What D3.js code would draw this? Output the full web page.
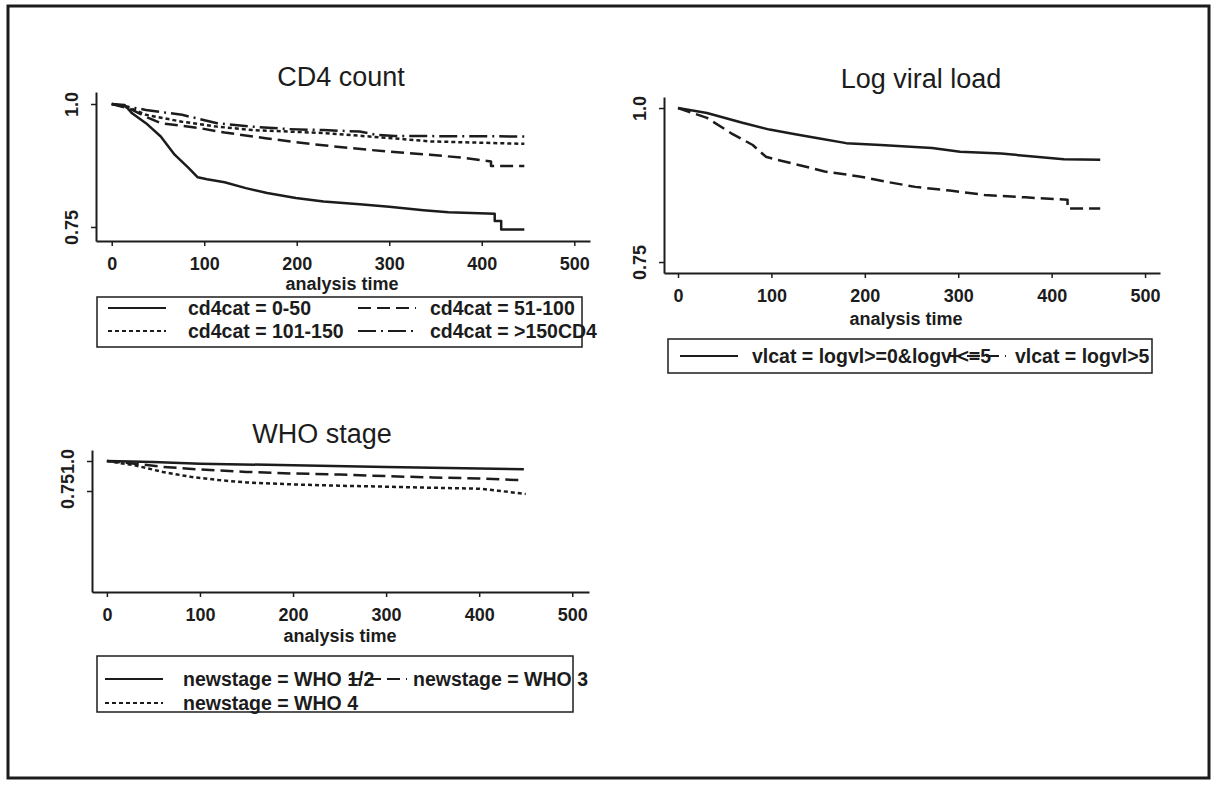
<!DOCTYPE html>
<html>
<head>
<meta charset="utf-8">
<script src="https://cdn.jsdelivr.net/npm/d3@7"></script>
<style>
  html, body { margin: 0; padding: 0; background: #fff; }
  svg { display: block; }
  text { font-family: "Liberation Sans", Arial, sans-serif; fill: #1c1c1c; }
</style>
</head>
<body>
<svg id="chart" width="1222" height="788"></svg>
<script>
// ---- Kaplan-Meier survival estimates (analysis time in days) ----
const tickTimes = [0, 100, 200, 300, 400, 500];
const survTicks = [0.75, 1.0];

// CD4 count groups
const cd4Labels = ["cd4cat = 0-50", "cd4cat = 51-100", "cd4cat = 101-150", "cd4cat = >150CD4"];
const cd4_0_50_t   = [0, 14, 22, 37, 53, 68, 83, 93, 103, 122, 145, 168, 199, 229, 268, 300, 337, 364, 414, 414, 421, 421, 446];
const cd4_0_50_s   = [1.0, 0.998, 0.981, 0.961, 0.934, 0.897, 0.870, 0.851, 0.847, 0.841, 0.829, 0.819, 0.809, 0.802, 0.796, 0.791, 0.784, 0.780, 0.777, 0.762, 0.762, 0.745, 0.745];
const cd4_51_100_t = [0, 20, 37, 53, 95, 122, 168, 214, 260, 300, 344, 383, 410, 410, 446];
const cd4_51_100_s = [1.0, 0.990, 0.974, 0.961, 0.951, 0.942, 0.930, 0.919, 0.910, 0.903, 0.897, 0.890, 0.883, 0.874, 0.874];
const cd4_101_150_t = [0, 20, 37, 76, 114, 152, 229, 306, 344, 446];
const cd4_101_150_s = [1.0, 0.992, 0.978, 0.964, 0.954, 0.947, 0.941, 0.930, 0.924, 0.919];
const cd4_gt150_t  = [0, 37, 76, 114, 152, 191, 229, 268, 287, 306, 446];
const cd4_gt150_s  = [1.0, 0.988, 0.978, 0.961, 0.954, 0.949, 0.947, 0.944, 0.937, 0.935, 0.934];

// Log viral load groups
const vlLabels = ["vlcat = logvl>=0&logvl<=5", "vlcat = logvl>5"];
const vlLow_t  = [0, 31, 69, 98, 124, 150, 180, 217, 272, 302, 346, 383, 413, 452];
const vlLow_s  = [1.0, 0.992, 0.976, 0.965, 0.958, 0.951, 0.943, 0.940, 0.935, 0.929, 0.926, 0.921, 0.917, 0.916];
const vlHigh_t = [0, 31, 57, 80, 94, 106, 128, 157, 194, 224, 254, 291, 328, 372, 417, 417, 452];
const vlHigh_s = [1.0, 0.984, 0.959, 0.940, 0.921, 0.916, 0.908, 0.897, 0.889, 0.880, 0.872, 0.866, 0.859, 0.855, 0.851, 0.837, 0.837];

// WHO stage groups
const whoLabels = ["newstage = WHO 1/2", "newstage = WHO 3", "newstage = WHO 4"];
const who12_t = [0, 50, 100, 200, 300, 400, 448];
const who12_s = [1.0, 0.992, 0.978, 0.964, 0.951, 0.937, 0.931];
const who3_t  = [0, 30, 60, 100, 150, 200, 250, 300, 350, 400, 440, 448];
const who3_s  = [1.0, 0.978, 0.951, 0.929, 0.909, 0.896, 0.887, 0.874, 0.863, 0.854, 0.841, 0.841];
const who4_t  = [0, 30, 60, 90, 120, 150, 200, 250, 300, 350, 400, 420, 450];
const who4_s  = [1.0, 0.964, 0.909, 0.868, 0.841, 0.821, 0.805, 0.794, 0.786, 0.777, 0.769, 0.753, 0.725];

// ---- line patterns ----
const INK = "#1c1c1c";
const SOLID = null;
const LONGDASH = "13,6";
const SHORTDASH = "4,3";
const DASHDOT = "18,5,2,5";
const FONT = '"Liberation Sans", Arial, sans-serif';

const svg = d3.select("#chart");

// outer frame
svg.append("rect")
  .attr("x", 8).attr("y", 6).attr("width", 1201).attr("height", 772)
  .attr("fill", "none").attr("stroke", INK).attr("stroke-width", 3);

function zip(ts, ss) { return ts.map((t, i) => ({ t, s: ss[i] })); }

function panel(cfg) {
  const g = svg.append("g");
  const x = d3.scaleLinear().domain(cfg.xDomain).range(cfg.xRange);
  const y = d3.scaleLinear().domain(cfg.yDomain).range(cfg.yRange);

  // title
  g.append("text")
    .attr("x", cfg.titleX).attr("y", cfg.titleY)
    .attr("text-anchor", "middle")
    .style("font-size", "27px")
    .text(cfg.title);

  // x axis
  const xAxis = g.append("g")
    .attr("transform", `translate(0,${cfg.yRange[0]})`)
    .call(d3.axisBottom(x).tickValues(tickTimes).tickSizeInner(5).tickSizeOuter(0).tickPadding(11));
  xAxis.select(".domain").attr("stroke", INK).attr("stroke-width", 2);
  xAxis.selectAll(".tick line").attr("stroke", INK).attr("stroke-width", 1.5);
  xAxis.selectAll(".tick text")
    .attr("fill", INK)
    .style("font-family", FONT)
    .style("font-size", "18px").style("font-weight", "bold");

  // y axis
  const yAxis = g.append("g")
    .attr("transform", `translate(${cfg.xRange[0]},0)`)
    .call(d3.axisLeft(y).tickValues(survTicks).tickSizeInner(5).tickSizeOuter(0)
      .tickFormat(d => d === 1 ? "1.0" : String(d)));
  yAxis.select(".domain").attr("stroke", INK).attr("stroke-width", 2);
  yAxis.selectAll(".tick line").attr("stroke", INK).attr("stroke-width", 1.5);
  yAxis.selectAll(".tick text")
    .attr("fill", INK)
    .attr("x", null)
    .attr("transform", "translate(-24,0) rotate(-90)")
    .attr("text-anchor", "middle")
    .attr("dy", "0.35em")
    .style("font-family", FONT)
    .style("font-size", "18px").style("font-weight", "bold");

  // x axis title
  g.append("text")
    .attr("x", cfg.xTitleX).attr("y", cfg.xTitleY)
    .attr("text-anchor", "middle")
    .style("font-size", "18px").style("font-weight", "bold")
    .text("analysis time");

  // survival curves
  const line = d3.line().x(d => x(d.t)).y(d => y(d.s));
  cfg.series.forEach(s => {
    g.append("path")
      .datum(zip(s.t, s.s))
      .attr("d", line)
      .attr("fill", "none")
      .attr("stroke", INK)
      .attr("stroke-width", 2.5)
      .attr("stroke-linejoin", "round")
      .attr("stroke-dasharray", s.dash);
  });

  // legend
  const L = cfg.legend;
  g.append("rect")
    .attr("x", L.x).attr("y", L.y).attr("width", L.w).attr("height", L.h)
    .attr("fill", "none").attr("stroke", INK).attr("stroke-width", 1.5);
  cfg.series.forEach((s, i) => {
    const col = i % L.cols, row = Math.floor(i / L.cols);
    const sx = L.x + L.colX[col];
    const sy = L.y + L.rowY[row];
    g.append("line")
      .attr("x1", sx).attr("x2", sx + L.sampleW)
      .attr("y1", sy).attr("y2", sy)
      .attr("stroke", INK).attr("stroke-width", 2)
      .attr("stroke-dasharray", s.dash);
    g.append("text")
      .attr("x", sx + L.sampleW + L.gap[col]).attr("y", sy)
      .attr("dy", "0.35em")
      .style("font-size", "19.5px").style("font-weight", "bold")
      .text(s.label);
  });
}

// CD4 count
panel({
  title: "CD4 count", titleX: 341, titleY: 86,
  xDomain: [-17, 517], xRange: [96, 590],
  yDomain: [0.7215, 1.0244], yRange: [241, 92],
  xTitleX: 342, xTitleY: 290,
  series: [
    { label: cd4Labels[0], t: cd4_0_50_t, s: cd4_0_50_s, dash: SOLID },
    { label: cd4Labels[1], t: cd4_51_100_t, s: cd4_51_100_s, dash: LONGDASH },
    { label: cd4Labels[2], t: cd4_101_150_t, s: cd4_101_150_s, dash: SHORTDASH },
    { label: cd4Labels[3], t: cd4_gt150_t, s: cd4_gt150_s, dash: DASHDOT }
  ],
  legend: { x: 97, y: 297, w: 485, h: 50, cols: 2, colX: [11, 261], rowY: [11, 34], sampleW: 58, gap: [22, 14] }
});

// Log viral load
panel({
  title: "Log viral load", titleX: 921, titleY: 88,
  xDomain: [-15, 516], xRange: [664, 1160],
  yDomain: [0.7322, 1.0179], yRange: [273, 97],
  xTitleX: 906, xTitleY: 325,
  series: [
    { label: vlLabels[0], t: vlLow_t, s: vlLow_s, dash: SOLID },
    { label: vlLabels[1], t: vlHigh_t, s: vlHigh_s, dash: LONGDASH }
  ],
  legend: { x: 668, y: 339, w: 484, h: 34, cols: 2, colX: [12, 280], rowY: [17], sampleW: 58, gap: [14, 9] }
});

// WHO stage
panel({
  title: "WHO stage", titleX: 322, titleY: 443,
  xDomain: [-16, 518], xRange: [92, 589],
  yDomain: [-0.0917, 1.0917], yRange: [592, 450],
  xTitleX: 340, xTitleY: 642,
  series: [
    { label: whoLabels[0], t: who12_t, s: who12_s, dash: SOLID },
    { label: whoLabels[1], t: who3_t, s: who3_s, dash: LONGDASH },
    { label: whoLabels[2], t: who4_t, s: who4_s, dash: SHORTDASH }
  ],
  legend: { x: 97, y: 656, w: 476, h: 56, cols: 2, colX: [8, 252], rowY: [23, 47], sampleW: 58, gap: [20, 6] }
});
</script>
</body>
</html>
